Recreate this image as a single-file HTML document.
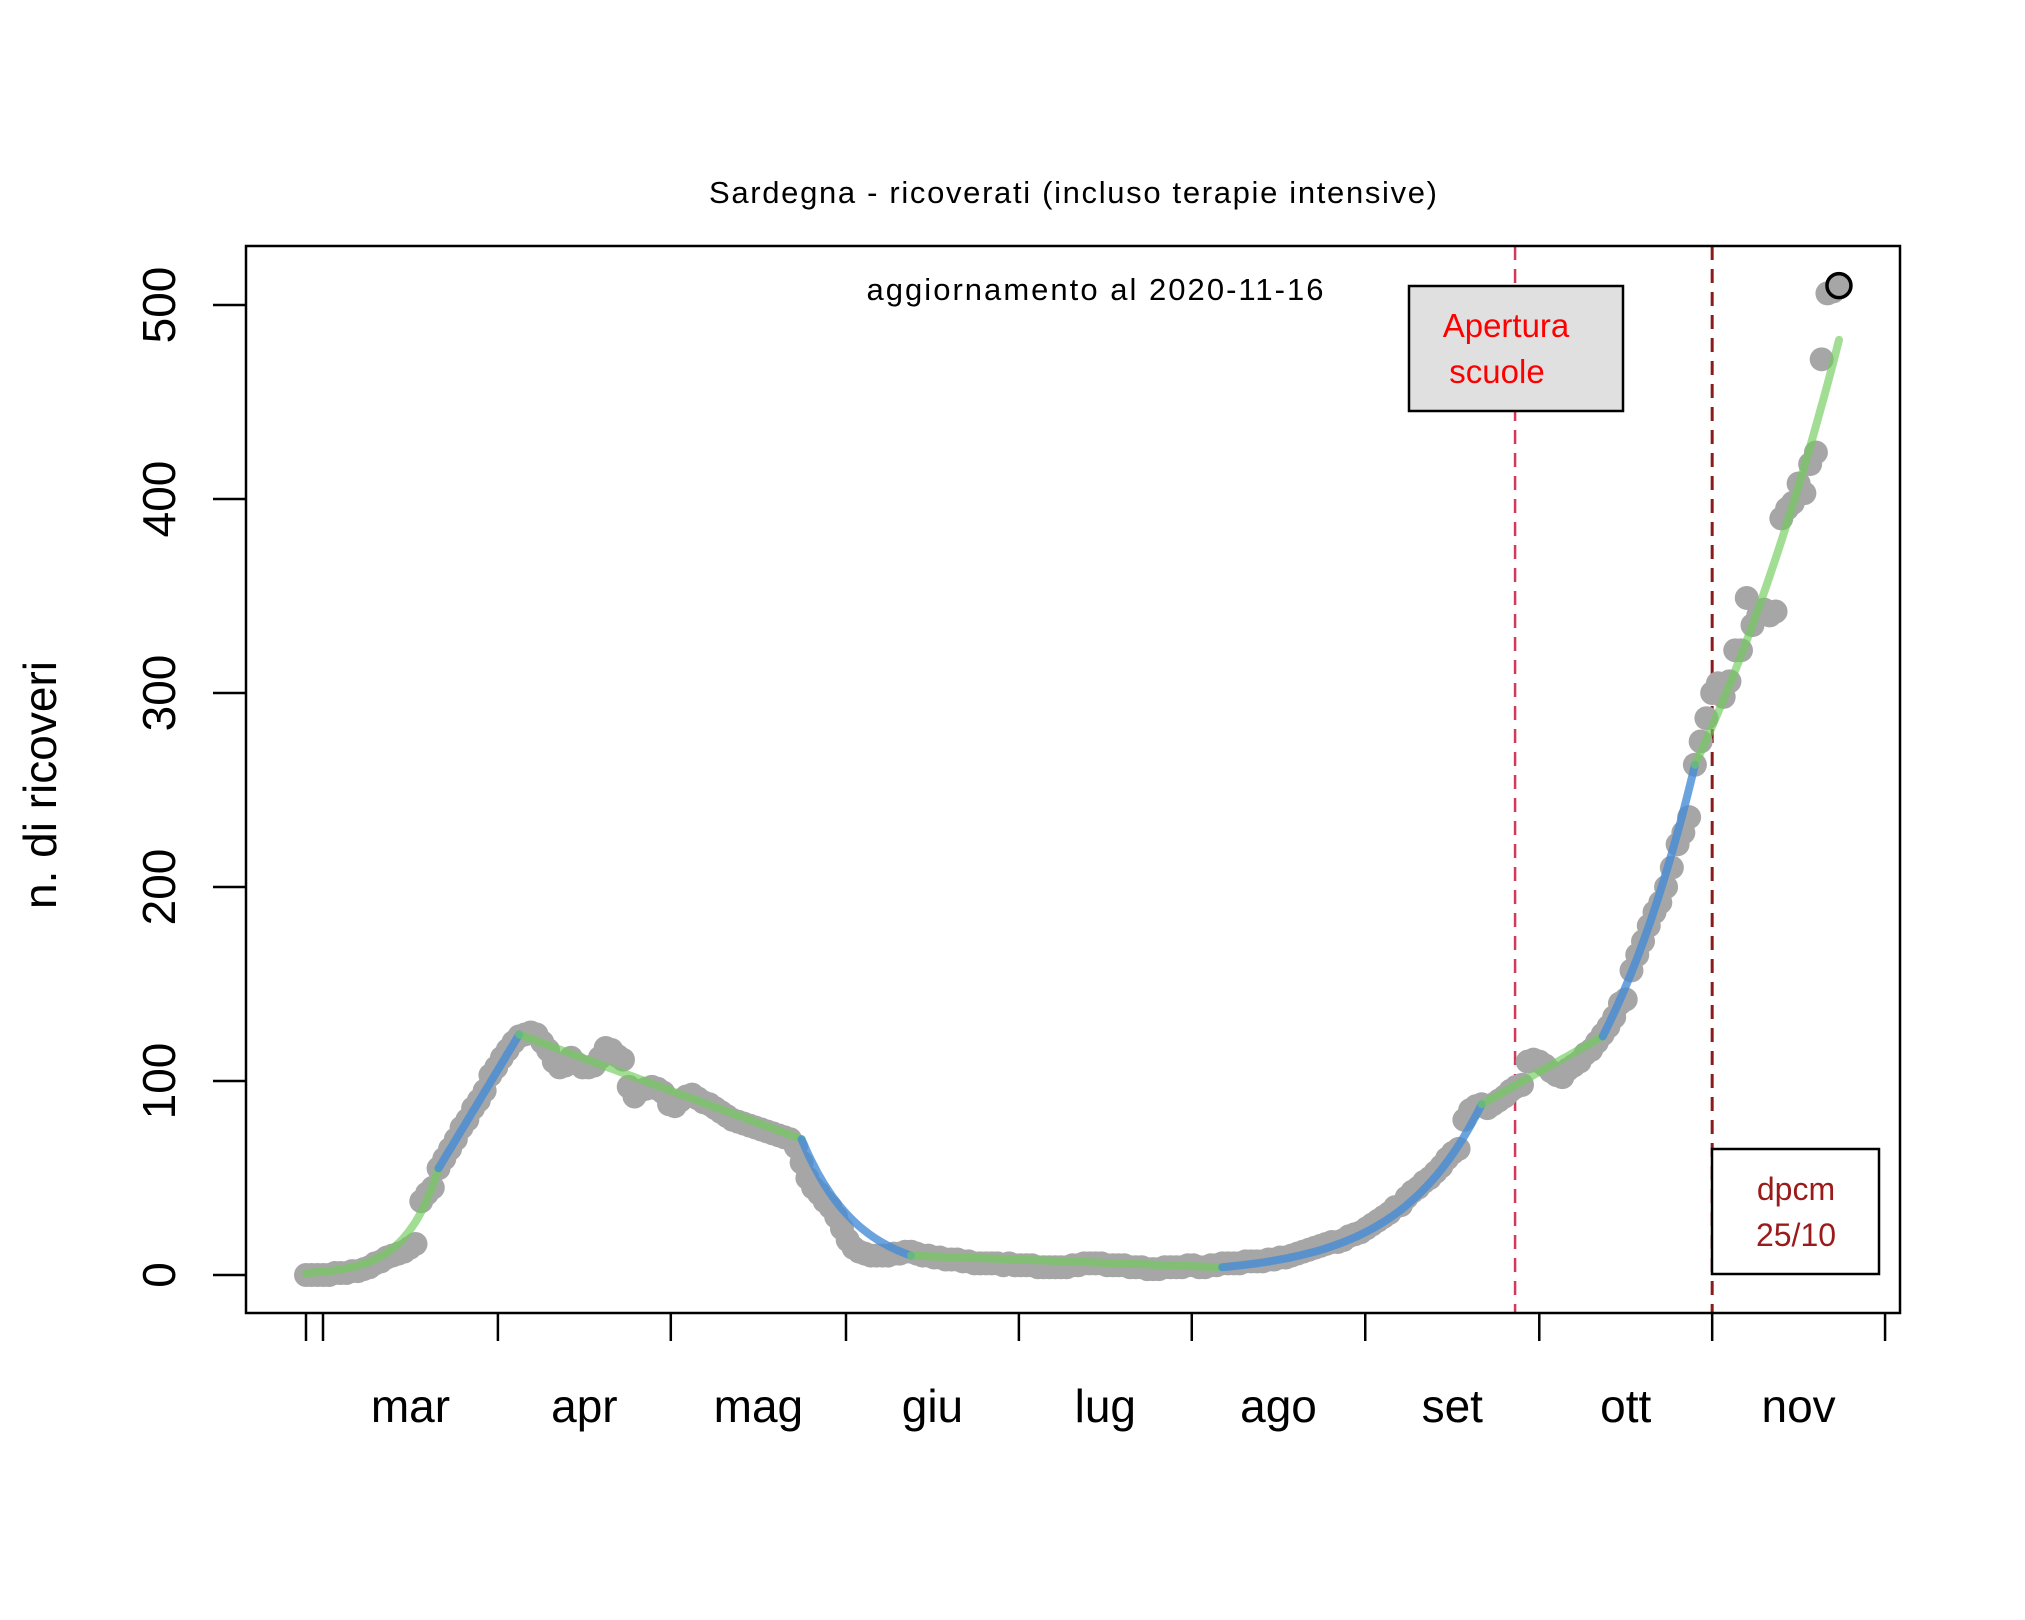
<!DOCTYPE html>
<html><head><meta charset="utf-8"><style>
html,body{margin:0;padding:0;background:#fff;}
svg{display:block;font-family:"Liberation Sans",Arial,sans-serif;}
</style></head><body>
<svg id="chart" width="2025" height="1620" viewBox="0 0 2025 1620">
<rect x="0" y="0" width="2025" height="1620" fill="#fff"/>
<text x="1073" y="203" font-size="31" text-anchor="middle" textLength="728">Sardegna - ricoverati (incluso terapie intensive)</text>
<text x="1095" y="300" font-size="31" text-anchor="middle" textLength="457">aggiornamento al 2020-11-16</text>
<text transform="translate(56,785) rotate(-90)" font-size="46" text-anchor="middle">n. di ricoveri</text>
<g id="grid"></g>
<g id="marks"></g>
<rect x="246" y="246" width="1654" height="1067" fill="none" stroke="#000" stroke-width="2.5"/>
</svg>
<script>
const days = [];
const values = [
0,0,0,0,0,1,1,1,2,2,
3,4,6,7,9,10,11,12,14,16,
38,42,45,55,60,65,70,76,80,86,
90,95,103,107,112,116,120,123,124,125,
124,120,116,110,107,108,112,109,107,107,
108,112,117,116,113,111,97,92,95,96,
97,96,94,88,87,90,92,93,91,89,
88,86,84,82,80,79,78,77,76,75,
74,73,72,71,70,66,58,50,45,42,
38,35,30,24,18,14,12,11,10,10,
10,10,11,11,12,12,11,10,10,9,
9,8,8,8,7,7,6,6,6,6,
6,5,6,5,5,5,5,4,4,4,
4,4,4,5,5,6,6,6,6,5,
5,5,5,4,4,4,3,3,3,4,
4,4,4,5,5,4,4,5,5,6,
6,6,6,7,7,7,7,8,8,9,
9,10,11,12,13,14,15,16,17,17,
18,20,21,22,24,26,28,30,32,35,
36,40,43,45,48,50,53,56,60,63,
65,80,85,87,88,86,88,90,92,95,
97,98,110,111,110,108,105,103,102,106,
108,110,114,116,120,124,128,133,140,142,
157,165,172,180,187,192,200,210,222,228,
236,263,275,287,300,305,298,306,322,322,
349,335,340,343,340,342,390,395,398,408,
403,418,424,472,506,507,510];
for (let i = 0; i < values.length; i++) days.push(i);
const yTicks = [0,100,200,300,400,500];
const xTicks = [0,2.95,33.3,63.3,93.7,123.7,153.7,183.8,214,244,274];
const monthLabels = ["mar","apr","mag","giu","lug","ago","set","ott","nov"];
const segStart = [0,23,37,86,105,159,204,225,241];
const segEnd   = [23,37,86,105,159,204,225,241,266];
const segV0    = [1,55,124,70,10,4,88,123,263];
const segV1    = [55,124,70,10,4,88,123,263,482];
const segType  = ["exp","lin","lin","exp","lin","exp","lin","exp","exp"];
const schoolDay = 209.8, dpcmDay = 244;

const NS = "http://www.w3.org/2000/svg";
const X = d => 306 + d * 5.763;
const Y = v => 1275 - v * 1.94;
function mk(tag, attrs, parent){const e=document.createElementNS(NS,tag);for(const k in attrs)e.setAttribute(k,attrs[k]);parent.appendChild(e);return e;}
const grid = document.getElementById('grid'), marks = document.getElementById('marks');

yTicks.forEach(v=>{
  const l = mk('line',{x1:213,x2:246,y1:Y(v),y2:Y(v),stroke:'#000','stroke-width':2.5},grid);
  
  
  const t = mk('text',{transform:`translate(175,${Y(v)}) rotate(-90)`,'font-size':46,'text-anchor':'middle'},grid);
  t.textContent = v;
  
  
});
xTicks.forEach(d=>{
  const l = mk('line',{x1:X(d),x2:X(d),y1:1313,y2:1341,stroke:'#000','stroke-width':2.5},grid);
  
  
});
monthLabels.forEach((m,i)=>{
  const cx = (X(xTicks[i+1]) + X(xTicks[i+2])) / 2;
  const t = mk('text',{x:cx,y:1422,'font-size':46,'text-anchor':'middle'},grid);
  t.textContent = m;
  
  
});

const sl = mk('line',{x1:X(schoolDay),x2:X(schoolDay),y1:246,y2:1313,stroke:'#d23a5a','stroke-width':2.5,'stroke-dasharray':'14,9'},marks);


const dl = mk('line',{x1:X(dpcmDay),x2:X(dpcmDay),y1:246,y2:1313,stroke:'#8b1a1a','stroke-width':3,'stroke-dasharray':'14,9'},marks);



values.forEach((v,i)=>{
  const last = i === values.length-1;
  const c = mk('circle',{cx:X(days[i]),cy:Y(v),r:last?12:12,fill:'#a6a6a6',stroke:last?'#000':'none','stroke-width':last?3.5:0},marks);
  
  
});

segStart.forEach((s,k)=>{
  const e = segEnd[k], v0 = segV0[k], v1 = segV1[k];
  let pts = [];
  for (let j=0;j<=40;j++){
    const f=j/40, d=s+(e-s)*f;
    const v = segType[k]==='exp' ? v0*Math.pow(v1/v0,f) : v0+(v1-v0)*f;
    pts.push(X(d).toFixed(1)+','+Y(v).toFixed(1));
  }
  const blue = k%2===1;
  const p = mk('polyline',{points:pts.join(' '),fill:'none',stroke:blue?'rgba(70,140,215,0.8)':'rgba(110,205,90,0.65)','stroke-width':8,'stroke-linecap':'round'},marks);
  
  
});

const g1 = mk('g',{},marks);


mk('rect',{x:1409,y:286,width:214,height:125,fill:'#e0e0e0',stroke:'#000','stroke-width':2.5},g1);
let t = mk('text',{x:1506,y:337,'font-size':33,fill:'#ff0000','text-anchor':'middle'},g1); t.textContent='Apertura';
t = mk('text',{x:1497,y:383,'font-size':33,fill:'#ff0000','text-anchor':'middle'},g1); t.textContent='scuole';
const g2 = mk('g',{},marks);


mk('rect',{x:1712,y:1149,width:167,height:125,fill:'#fff',stroke:'#000','stroke-width':2.5},g2);
t = mk('text',{x:1796,y:1200,'font-size':32,fill:'#9b1b1b','text-anchor':'middle'},g2); t.textContent='dpcm';
t = mk('text',{x:1796,y:1246,'font-size':32,fill:'#9b1b1b','text-anchor':'middle'},g2); t.textContent='25/10';
</script>
</body></html>
